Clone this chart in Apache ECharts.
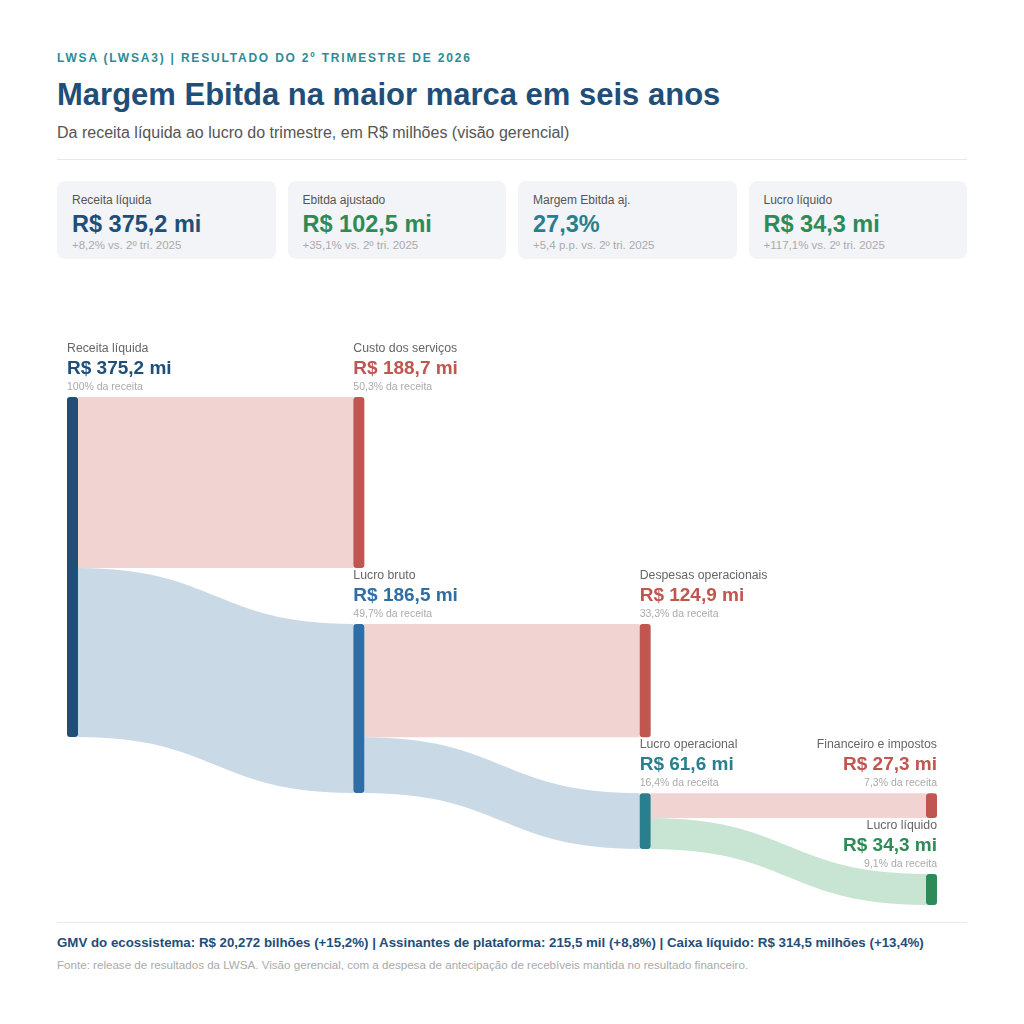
<!DOCTYPE html>
<html lang="pt-BR">
<head>
<meta charset="utf-8">
<title>LWSA 2T26 - Margem Ebitda</title>
<script src="https://cdn.jsdelivr.net/npm/echarts@6/dist/echarts.min.js"></script>
<style>
  body { margin: 0; background: #fff; font-family: "Liberation Sans", Arial, sans-serif; }
  #page { position: relative; width: 1024px; height: 1024px; overflow: hidden; }
  .kicker { position: absolute; left: 57px; top: 50px; font-size: 12px; line-height: 16px; font-weight: bold; letter-spacing: 1.8px; color: #2f8a96; }
  .title { position: absolute; left: 57px; top: 77px; font-size: 31px; line-height: 36px; font-weight: bold; color: #1f4e79; }
  .sub { position: absolute; left: 57px; top: 123px; font-size: 16px; line-height: 20px; color: #555; }
  .rule { position: absolute; left: 57px; width: 910px; height: 1px; background: #e6e8ec; }
  #cards { position: absolute; left: 57px; top: 181px; width: 910px; display: flex; gap: 12px; }
  .card { flex: 1; height: 78px; box-sizing: border-box; padding: 11px 15px 0; background: #f2f4f8; border-radius: 8px; }
  .card .lab { font-size: 12px; line-height: 16px; color: #555; }
  .card .val { margin-top: 2px; font-size: 23.5px; line-height: 28px; font-weight: bold; }
  .card .dlt { font-size: 11.5px; line-height: 14px; color: #aaa; }
  #chart { position: absolute; left: 0; top: 300px; width: 1024px; height: 620px; }
  .foot1 { position: absolute; left: 57px; top: 935px; font-size: 13.3px; line-height: 16px; font-weight: bold; color: #1f4e79; }
  .foot2 { position: absolute; left: 57px; top: 958px; font-size: 11.6px; line-height: 14px; color: #aaa; }
</style>
</head>
<body>
<div id="page">
  <div class="kicker">LWSA (LWSA3) | RESULTADO DO 2º TRIMESTRE DE 2026</div>
  <div class="title">Margem Ebitda na maior marca em seis anos</div>
  <div class="sub">Da receita líquida ao lucro do trimestre, em R$ milhões (visão gerencial)</div>
  <div class="rule" style="top:159px"></div>
  <div id="cards"></div>
  <div id="chart"></div>
  <div class="rule" style="top:922px"></div>
  <div class="foot1">GMV do ecossistema: R$ 20,272 bilhões (+15,2%) | Assinantes de plataforma: 215,5 mil (+8,8%) | Caixa líquido: R$ 314,5 milhões (+13,4%)</div>
  <div class="foot2">Fonte: release de resultados da LWSA. Visão gerencial, com a despesa de antecipação de recebíveis mantida no resultado financeiro.</div>
</div>
<script>
// KPI cards
const kpiLabels = ['Receita líquida', 'Ebitda ajustado', 'Margem Ebitda aj.', 'Lucro líquido'];
const kpiValues = ['R$ 375,2 mi', 'R$ 102,5 mi', '27,3%', 'R$ 34,3 mi'];
const kpiDeltas = ['+8,2% vs. 2º tri. 2025', '+35,1% vs. 2º tri. 2025', '+5,4 p.p. vs. 2º tri. 2025', '+117,1% vs. 2º tri. 2025'];
const kpiColors = ['#1f4e79', '#2e8b57', '#2a7f8f', '#2e8b57'];

// sankey nodes (R$ milhões)
const nodeNames = ['Receita líquida', 'Custo dos serviços', 'Lucro bruto', 'Despesas operacionais',
  'Lucro operacional', 'Financeiro e impostos', 'Lucro líquido'];
const nodeValues = [375.2, 188.7, 186.5, 124.9, 61.6, 27.3, 34.3];
const nodePct = ['100%', '50,3%', '49,7%', '33,3%', '16,4%', '7,3%', '9,1%'];
const nodeColors = ['#1f4e79', '#c0564f', '#2f6ea5', '#c0564f', '#2a7f8f', '#c0564f', '#2e8b57'];

// flows
const linkSource = [0, 0, 2, 2, 4, 4];
const linkTarget = [1, 2, 3, 4, 5, 6];
const linkValue = [188.7, 186.5, 124.9, 61.6, 27.3, 34.3];
const linkColors = ['#f1d4d2', '#c9d9e6', '#f1d4d2', '#c9d9e6', '#f1d4d2', '#c8e4d3'];

document.getElementById('cards').innerHTML = kpiLabels.map((l, i) =>
  '<div class="card"><div class="lab">' + l + '</div>' +
  '<div class="val" style="color:' + kpiColors[i] + '">' + kpiValues[i] + '</div>' +
  '<div class="dlt">' + kpiDeltas[i] + '</div></div>').join('');

const H = 510;         // series height
const NODE_GAP = 170;  // only sets the scale ky used by echarts
const GAP = 56;        // visual gap between stacked siblings
const ky = (H - NODE_GAP) / nodeValues[0];

// children start at the parent's top, siblings stacked below
const yPx = nodeNames.map(() => 0);
const depth = nodeNames.map(() => 0);
nodeNames.forEach((_, i) => {
  let y = yPx[i];
  linkSource.forEach((s, k) => {
    if (s !== i) return;
    const t = linkTarget[k];
    yPx[t] = y;
    depth[t] = depth[i] + 1;
    y += linkValue[k] * ky + GAP;
  });
});
const maxDepth = Math.max(...depth);

const fmt = v => 'R$ ' + v.toFixed(1).replace('.', ',') + ' mi';

const chart = echarts.init(document.getElementById('chart'));
chart.setOption({
  animation: false,
  series: [{
    type: 'sankey',
    left: 67, top: 97, width: 870, height: H,
    nodeWidth: 11,
    nodeGap: NODE_GAP,
    nodeAlign: 'left',
    layoutIterations: 0,
    draggable: false,
    emphasis: { disabled: true },
    itemStyle: { borderWidth: 0, borderRadius: 3 },
    lineStyle: { curveness: 0.5, opacity: 1 },
    data: nodeNames.map((name, i) => {
      const last = depth[i] === maxDepth;
      return {
        name,
        localY: yPx[i] / H,
        itemStyle: { color: nodeColors[i] },
        label: {
          show: true,
          position: [last ? '100%' : 0, -3],
          align: last ? 'right' : 'left',
          verticalAlign: 'bottom',
          fontFamily: '"Liberation Sans", Arial, sans-serif',
          formatter: '{n|' + name + '}\n{v|' + fmt(nodeValues[i]) + '}\n{p|' + nodePct[i] + ' da receita}',
          rich: {
            n: { fontSize: 12.3, color: '#666', lineHeight: 19 },
            v: { fontSize: 19, fontWeight: 'bold', color: nodeColors[i], lineHeight: 22 },
            p: { fontSize: 10.5, color: '#aaa', lineHeight: 14 }
          }
        }
      };
    }),
    links: linkSource.map((s, k) => ({
      source: nodeNames[s],
      target: nodeNames[linkTarget[k]],
      value: linkValue[k],
      lineStyle: { color: linkColors[k] }
    }))
  }]
});
</script>
</body>
</html>
